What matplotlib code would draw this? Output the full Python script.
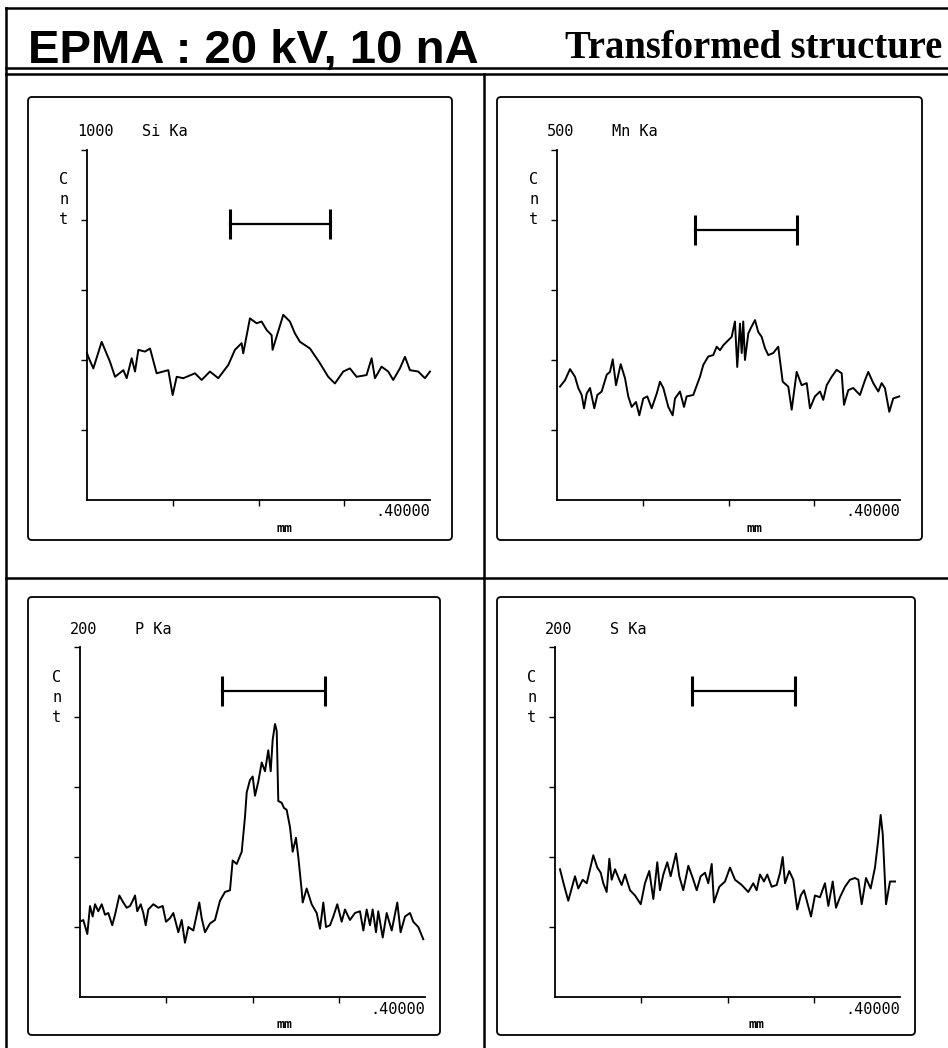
import matplotlib.pyplot as plt
from matplotlib.lines import Line2D
from matplotlib.patches import FancyBboxPatch

# ---- line scan data (position in mm, counts) ----
si_mm = [0.000, 0.0015, 0.0074, 0.0171, 0.0268, 0.0327, 0.0424, 0.0463, 0.0521, 0.0560,
         0.0599, 0.0676, 0.0735, 0.0812, 0.0948, 0.0999, 0.1046, 0.1123, 0.1259, 0.1337,
         0.1434, 0.1531, 0.1648, 0.1725, 0.1803, 0.1822, 0.1900, 0.1978, 0.2036, 0.2094,
         0.2153, 0.2164, 0.2211, 0.2289, 0.2366, 0.2425, 0.2483, 0.2600, 0.2716, 0.2813,
         0.2891, 0.2988, 0.3066, 0.3144, 0.3260, 0.3319, 0.3358, 0.3435, 0.3513, 0.3571,
         0.3649, 0.3708, 0.3766, 0.3863, 0.3941, 0.4000]
si_cnt = [420, 409, 376, 452, 395, 352, 371, 348, 405, 367,
          429, 424, 433, 362, 371, 300, 352, 348, 362, 343,
          367, 348, 386, 429, 448, 419, 519, 505, 510, 486,
          471, 429, 467, 529, 510, 476, 452, 433, 391, 352,
          333, 367, 376, 352, 357, 405, 348, 381, 367, 343,
          376, 409, 371, 367, 348, 367]

mn_mm = [0.0035, 0.0093, 0.0152, 0.0210, 0.0248, 0.0288, 0.0315, 0.0346, 0.0385, 0.0435,
         0.0470, 0.0521, 0.0580, 0.0618, 0.0650, 0.0688, 0.0743, 0.0793, 0.0831, 0.0871,
         0.0921, 0.0960, 0.1006, 0.1053, 0.1104, 0.1163, 0.1201, 0.1240, 0.1298, 0.1349,
         0.1376, 0.1434, 0.1481, 0.1512, 0.1589, 0.1667, 0.1706, 0.1764, 0.1822, 0.1862,
         0.1901, 0.1939, 0.1979, 0.2037, 0.2075, 0.2102, 0.2134, 0.2154, 0.2172, 0.2192,
         0.2231, 0.2270, 0.2309, 0.2347, 0.2387, 0.2425, 0.2464, 0.2522, 0.2580, 0.2632,
         0.2697, 0.2737, 0.2795, 0.2853, 0.2912, 0.2950, 0.3008, 0.3067, 0.3105, 0.3145,
         0.3203, 0.3261, 0.3320, 0.3347, 0.3397, 0.3455, 0.3533, 0.3591, 0.3630, 0.3688,
         0.3747, 0.3786, 0.3824, 0.3875, 0.3921, 0.3991]
mn_cnt = [162, 171, 187, 176, 160, 150, 131, 152, 160, 131,
          150, 155, 179, 183, 201, 164, 194, 174, 148, 133,
          140, 121, 145, 148, 131, 152, 169, 160, 133, 121,
          145, 155, 133, 148, 150, 176, 193, 205, 207, 219,
          214, 221, 226, 233, 255, 190, 252, 210, 255, 200,
          238, 248, 257, 240, 233, 217, 207, 210, 219, 169,
          162, 129, 183, 164, 167, 131, 148, 155, 143, 164,
          176, 186, 181, 136, 157, 160, 150, 171, 183, 167,
          155, 167, 160, 126, 145, 148]

p_mm = [0.0000, 0.0038, 0.0085, 0.0116, 0.0147, 0.0174, 0.0212, 0.0252, 0.0290, 0.0328,
        0.0374, 0.0406, 0.0456, 0.0502, 0.0541, 0.0580, 0.0611, 0.0638, 0.0664, 0.0704,
        0.0734, 0.0762, 0.0792, 0.0850, 0.0908, 0.0959, 0.0997, 0.1043, 0.1082, 0.1140,
        0.1179, 0.1217, 0.1256, 0.1314, 0.1383, 0.1411, 0.1449, 0.1507, 0.1565, 0.1623,
        0.1681, 0.1739, 0.1770, 0.1817, 0.1875, 0.1913, 0.1933, 0.1971, 0.2002, 0.2029,
        0.2067, 0.2107, 0.2145, 0.2183, 0.2211, 0.2234, 0.2261, 0.2281, 0.2299, 0.2338,
        0.2365, 0.2396, 0.2435, 0.2466, 0.2504, 0.2531, 0.2570, 0.2582, 0.2628, 0.2686,
        0.2744, 0.2783, 0.2821, 0.2852, 0.2899, 0.2937, 0.2983, 0.3034, 0.3072, 0.3130,
        0.3188, 0.3246, 0.3285, 0.3324, 0.3362, 0.3393, 0.3432, 0.3458, 0.3510, 0.3556,
        0.3614, 0.3679, 0.3717, 0.3768, 0.3826, 0.3864, 0.3922, 0.3980]
p_cnt = [43, 44, 36, 52, 46, 53, 49, 53, 47, 48,
         41, 47, 58, 54, 51, 52, 55, 58, 49, 53,
         48, 41, 50, 53, 51, 52, 43, 45, 48, 37,
         44, 31, 40, 38, 54, 45, 37, 42, 44, 55,
         60, 61, 78, 76, 83, 103, 117, 124, 126, 115,
         123, 134, 129, 141, 129, 147, 156, 152, 112, 111,
         108, 107, 97, 83, 91, 80, 61, 54, 62, 53,
         48, 39, 54, 40, 41, 46, 53, 43, 50, 44,
         48, 49, 38, 50, 41, 50, 37, 49, 34, 48,
         38, 54, 37, 46, 48, 43, 40, 33]

s_mm = [0.0058, 0.0104, 0.0154, 0.0232, 0.0270, 0.0321, 0.0368, 0.0406, 0.0444, 0.0490,
        0.0530, 0.0560, 0.0599, 0.0630, 0.0657, 0.0696, 0.0745, 0.0773, 0.0812, 0.0870,
        0.0928, 0.0994, 0.1043, 0.1093, 0.1140, 0.1186, 0.1217, 0.1256, 0.1302, 0.1341,
        0.1403, 0.1441, 0.1487, 0.1546, 0.1597, 0.1643, 0.1689, 0.1739, 0.1777, 0.1817,
        0.1843, 0.1905, 0.1971, 0.2029, 0.2087, 0.2165, 0.2241, 0.2299, 0.2338, 0.2377,
        0.2423, 0.2461, 0.2512, 0.2570, 0.2609, 0.2640, 0.2667, 0.2716, 0.2763, 0.2809,
        0.2849, 0.2887, 0.2925, 0.2968, 0.3014, 0.3072, 0.3130, 0.3169, 0.3220, 0.3258,
        0.3304, 0.3362, 0.3420, 0.3478, 0.3517, 0.3556, 0.3606, 0.3660, 0.3710, 0.3748,
        0.3776, 0.3800, 0.3838, 0.3884, 0.3942]
s_cnt = [73, 64, 55, 69, 62, 67, 65, 73, 81, 74,
         71, 65, 60, 79, 67, 73, 67, 64, 70, 61,
         58, 53, 65, 72, 56, 77, 61, 70, 77, 69,
         82, 69, 61, 75, 68, 61, 69, 71, 65, 76,
         54, 63, 66, 74, 67, 64, 60, 65, 61, 70,
         66, 70, 63, 64, 71, 80, 65, 72, 67, 50,
         58, 61, 54, 46, 58, 57, 65, 52, 66, 51,
         57, 63, 67, 68, 67, 53, 68, 62, 74, 90,
         104, 93, 53, 66, 66]

elements = ["Si Ka", "Mn Ka", "P Ka", "S Ka"]
full_scale = [1000, 500, 200, 200]
scan_length = 0.4
bar_start = [0.167, 0.161, 0.165, 0.159]
bar_end = [0.283, 0.280, 0.284, 0.278]
bar_level = [789, 386, 175, 175]

W, H = 948, 1048

# pixel layout: axis box (left, top, right, bottom), panel frame, x of "mm"
axis_px = [(87, 150, 430, 500), (557, 150, 900, 500),
           (80, 647, 425, 997), (555, 647, 900, 997)]
frame_px = [(28, 97, 452, 540), (497, 97, 922, 540),
            (28, 597, 440, 1035), (497, 597, 915, 1035)]
mm_x = [285, 755, 285, 757]

series = [(si_mm, si_cnt), (mn_mm, mn_cnt), (p_mm, p_cnt), (s_mm, s_cnt)]

fig = plt.figure(figsize=(W / 100, H / 100), dpi=100)
bg = fig.add_axes([0, 0, 1, 1])
bg.set_xlim(0, W)
bg.set_ylim(H, 0)
bg.axis("off")

# outer frame
frame_lines = [
    ((6, W), (8, 8)),
    ((6, 6), (8, H)),
    ((6, W), (68, 68)),
    ((6, W), (74, 74)),
    ((484, 484), (74, H)),
    ((6, W), (578, 578)),
]
for xs, ys in frame_lines:
    bg.add_line(Line2D(xs, ys, color="black", lw=1.8))

bg.text(28, 63, "EPMA : 20 kV, 10 nA", fontsize=34, fontweight="bold",
        family="Liberation Sans", va="baseline")
bg.text(565, 58, "Transformed structure", fontsize=27.8, fontweight="bold",
        family="Liberation Serif", va="baseline")

mono = "DejaVu Sans Mono"

for i in range(4):
    fx0, fy0, fx1, fy1 = frame_px[i]
    bg.add_patch(FancyBboxPatch((fx0, fy0), fx1 - fx0, fy1 - fy0,
                                boxstyle="round,pad=0,rounding_size=4",
                                fill=False, ec="black", lw=1.3))
    ax0, ay0, ax1, ay1 = axis_px[i]
    ax = fig.add_axes([ax0 / W, 1 - ay1 / H, (ax1 - ax0) / W, (ay1 - ay0) / H])
    ax.patch.set_alpha(0)
    x, y = series[i]
    ax.plot(x, y, color="black", lw=1.4, clip_on=False)
    ax.plot([bar_start[i], bar_end[i]], [bar_level[i], bar_level[i]],
            color="black", lw=1.6, marker="|", markersize=22, mew=2.2)
    ax.set_xlim(0, scan_length)
    ax.set_ylim(0, full_scale[i])
    for side in ("top", "right"):
        ax.spines[side].set_visible(False)
    for side in ("left", "bottom"):
        ax.spines[side].set_linewidth(1.3)
    ax.set_xticks([0.1, 0.2, 0.3])
    ax.set_yticks([full_scale[i] * k / 5 for k in range(1, 6)])
    ax.tick_params(length=4, width=1, labelbottom=False, labelleft=False)

    bg.text(ax0 - 10, ay0 - 18, str(full_scale[i]), family=mono, fontsize=11,
            va="center", ha="left")
    bg.text(ax0 + 55, ay0 - 18, elements[i], family=mono, fontsize=11,
            va="center", ha="left")
    for k, ch in enumerate("Cnt"):
        bg.text(ax0 - 23, ay0 + 30 + 20 * k, ch, family=mono, fontsize=11,
                va="center", ha="center")
    bg.text(ax1, ay1 + 12, ".40000", family=mono, fontsize=11,
            va="center", ha="right")
    bg.text(mm_x[i], ay1 + 28, "mm", family=mono, fontsize=9.5,
            fontweight="bold", va="center", ha="center")

fig.savefig("out.png", dpi=100)
